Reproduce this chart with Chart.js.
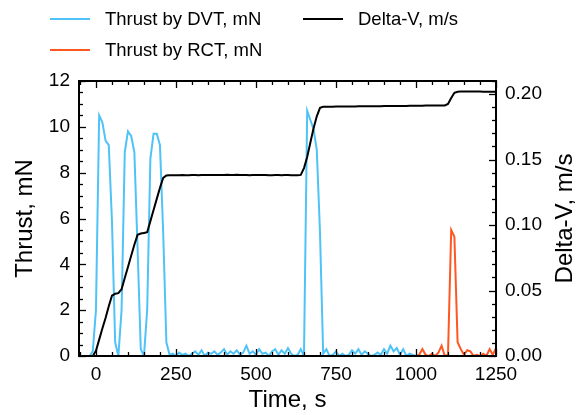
<!DOCTYPE html>
<html>
<head>
<meta charset="utf-8">
<script src="https://cdn.jsdelivr.net/npm/chart.js@4.4.1/dist/chart.umd.min.js"></script>
<style>
  body { margin: 0; background: #fff; }
  #wrap { width: 581px; height: 415px; }
</style>
</head>
<body>
<div id="wrap"><canvas id="thrustChart" width="581" height="415"></canvas></div>
<script>
// time axis, one sample every 10 s
const timeS = [
  -50, -40, -30, -20, -10, 0, 10, 20, 30, 40,
  50, 60, 70, 80, 90, 100, 110, 120, 130, 140,
  150, 160, 170, 180, 190, 200, 210, 220, 230, 240,
  250, 260, 270, 280, 290, 300, 310, 320, 330, 340,
  350, 360, 370, 380, 390, 400, 410, 420, 430, 440,
  450, 460, 470, 480, 490, 500, 510, 520, 530, 540,
  550, 560, 570, 580, 590, 600, 610, 620, 630, 640,
  650, 660, 670, 680, 690, 700, 710, 720, 730, 740,
  750, 760, 770, 780, 790, 800, 810, 820, 830, 840,
  850, 860, 870, 880, 890, 900, 910, 920, 930, 940,
  950, 960, 970, 980, 990, 1000, 1010, 1020, 1030, 1040,
  1050, 1060, 1070, 1080, 1090, 1100, 1110, 1120, 1130, 1140,
  1150, 1160, 1170, 1180, 1190, 1200, 1210, 1220, 1230, 1240,
  1250
];

// DVT thrust, mN (from -50 s to 1000 s)
const thrustDvt = [
  0, 0, 0, 0, 0.2, 2.0, 10.5, 10.2, 9.4, 9.2,
  5.9, 0.6, 0.0, 2.0, 8.9, 9.8, 9.6, 8.9, 4.7, 0.3,
  0.0, 2.0, 8.6, 9.7, 9.7, 9.2, 5.4, 0.6, 0.05, 0.1,
  0.0, 0.15, 0.05, 0.1, 0.0, 0.1, 0.2, 0.05, 0.25, 0.0,
  0.15, 0.1, 0.2, 0.05, 0.15, 0.3, 0.05, 0.2, 0.1, 0.25,
  0.05, 0.15, 0.45, 0.1, 0.2, 0.05, 0.3, 0.1, 0.15, 0.0,
  0.2, 0.3, 0.05, 0.25, 0.1, 0.35, 0.1, 0.0, 0.05, 0.3,
  0.0, 10.7, 10.3, 9.9, 9.0, 5.4, 0.1, 0.3, 0.0, 0.05,
  0.2, 0.0, 0.1, 0.0, 0.05, 0.25, 0.1, 0.3, 0.05, 0.2,
  0.1, 0.0, 0.05, 0.15, 0.05, 0.3, 0.1, 0.45, 0.2, 0.35,
  0.05, 0.3, 0.0, 0.1, 0.05, 0.0
];

// RCT thrust, mN (from 1000 s to 1250 s)
const thrustRct = [
  0.0, 0.05, 0.3, 0.05, 0.0,
  0.1, 0.0, 0.15, 0.45, 0.0, 0.05, 5.5, 5.2, 0.6, 0.3,
  0.05, 0.25, 0.2, 0.0, 0.05, 0.0, 0.1, 0.0, 0.3, 0.05,
  0.35
];

// accumulated delta-V, m/s
const deltaV = [
  0, 0, 0, 0, 0, 0.004, 0.0125, 0.021, 0.029, 0.038,
  0.046, 0.0475, 0.048, 0.051, 0.0595, 0.068, 0.0765, 0.085, 0.0925, 0.0935,
  0.094, 0.0945, 0.103, 0.1115, 0.120, 0.1285, 0.136, 0.1378, 0.1380, 0.1381,
  0.1380, 0.1381, 0.1382, 0.1381, 0.1381, 0.1382, 0.1382, 0.1381, 0.1382, 0.1383,
  0.1382, 0.1382, 0.1383, 0.1383, 0.1382, 0.1383, 0.1384, 0.1383, 0.1383, 0.1384,
  0.1383, 0.1383, 0.1382, 0.1381, 0.1382, 0.1382, 0.1383, 0.1382, 0.1382, 0.1381,
  0.1381, 0.1382, 0.1382, 0.1381, 0.1382, 0.1382, 0.1381, 0.1380, 0.1381, 0.1383,
  0.1435, 0.152, 0.163, 0.174, 0.183, 0.1895, 0.1903, 0.1904, 0.1904, 0.1904,
  0.1905, 0.1905, 0.1905, 0.1905, 0.1906, 0.1906, 0.1906, 0.1907, 0.1907, 0.1907,
  0.1907, 0.1908, 0.1908, 0.1908, 0.1908, 0.1909, 0.1909, 0.1909, 0.1909, 0.1910,
  0.1910, 0.1910, 0.1910, 0.1911, 0.1911, 0.1911, 0.1911, 0.1911, 0.1912, 0.1912,
  0.1912, 0.1912, 0.1913, 0.1913, 0.1913, 0.1925, 0.197, 0.201, 0.2018, 0.2020,
  0.2020, 0.2020, 0.2019, 0.2019, 0.2019, 0.2019, 0.2018, 0.2018, 0.2018, 0.2018,
  0.2018
];

const timeTicks = [0, 250, 500, 750, 1000, 1250];
const thrustTicks = [0, 2, 4, 6, 8, 10, 12];
const deltaVTicks = [0, 0.05, 0.10, 0.15, 0.20];

const FONT = '"Liberation Sans", Arial, Helvetica, sans-serif';
Chart.defaults.font.family = FONT;
Chart.defaults.color = '#000';

const dvtPoints = thrustDvt.map((v, i) => ({ x: timeS[i], y: v }));
const rctOffset = timeS.length - thrustRct.length;
const rctPoints = thrustRct.map((v, i) => ({ x: timeS[rctOffset + i], y: v }));
const dvPoints = deltaV.map((v, i) => ({ x: timeS[i], y: v }));

// matplotlib-like frame with inward major/minor ticks
const frameAndTicks = {
  id: 'frameAndTicks',
  afterDatasetsDraw(chart) {
    const { ctx, chartArea: a, scales } = chart;
    ctx.save();
    ctx.strokeStyle = '#000';
    ctx.lineWidth = 1.3;
    const mark = (x1, y1, x2, y2) => {
      ctx.beginPath(); ctx.moveTo(x1, y1); ctx.lineTo(x2, y2); ctx.stroke();
    };
    for (let v = -50; v <= 1250; v += 50) {
      const px = Math.round(scales.x.getPixelForValue(v)) + 0.5;
      const len = v % 250 === 0 ? 7 : 4;
      mark(px, a.bottom, px, a.bottom - len);
      mark(px, a.top, px, a.top + len);
    }
    for (let i = 0; i <= 24; i++) {
      const py = Math.round(scales.y.getPixelForValue(i / 2)) + 0.5;
      mark(a.left, py, a.left + (i % 4 === 0 ? 7 : 4), py);
    }
    for (let i = 0; i <= 21; i++) {
      const py = Math.round(scales.y2.getPixelForValue(i / 100)) + 0.5;
      mark(a.right, py, a.right - (i % 5 === 0 ? 7 : 4), py);
    }
    ctx.lineWidth = 2;
    ctx.strokeRect(a.left, a.top, a.right - a.left, a.bottom - a.top);

    // right axis title reads bottom to top
    ctx.fillStyle = '#000';
    ctx.font = '24px ' + FONT;
    ctx.textAlign = 'center';
    ctx.textBaseline = 'middle';
    ctx.translate(565, (a.top + a.bottom) / 2);
    ctx.rotate(-Math.PI / 2);
    ctx.fillText('Delta-V, m/s', 0, 0);
    ctx.restore();
  }
};

// two-column legend above the plot
const legendSlots = {
  id: 'legendSlots',
  afterDraw(chart) {
    const ctx = chart.ctx;
    const slots = [[50, 19], [50, 50], [303, 19]];
    ctx.save();
    ctx.font = '18.5px ' + FONT;
    ctx.textBaseline = 'middle';
    ctx.fillStyle = '#000';
    chart.data.datasets.forEach((ds, i) => {
      const [x, y] = slots[i];
      ctx.strokeStyle = ds.borderColor;
      ctx.lineWidth = 2;
      ctx.beginPath(); ctx.moveTo(x, y); ctx.lineTo(x + 40, y); ctx.stroke();
      ctx.fillText(ds.label, x + 55, y + 1);
    });
    ctx.restore();
  }
};

const tickFont = { size: 19 };

new Chart(document.getElementById('thrustChart'), {
  type: 'line',
  data: {
    datasets: [
      { label: 'Thrust by DVT, mN', data: dvtPoints, borderColor: '#4fc3f7', yAxisID: 'y', order: 1 },
      { label: 'Thrust by RCT, mN', data: rctPoints, borderColor: '#ff5722', yAxisID: 'y', order: 2 },
      { label: 'Delta-V, m/s', data: dvPoints, borderColor: '#000000', yAxisID: 'y2', order: 0 }
    ]
  },
  options: {
    responsive: false,
    animation: false,
    elements: {
      point: { radius: 0 },
      line: { borderWidth: 2, tension: 0, fill: false }
    },
    layout: { padding: { top: 81, left: 0, right: 0, bottom: 0 } },
    plugins: {
      legend: { display: false },
      tooltip: { enabled: false }
    },
    scales: {
      x: {
        type: 'linear',
        min: -53,
        max: 1250,
        grid: { display: false, drawTicks: false },
        border: { display: false },
        afterBuildTicks: s => { s.ticks = timeTicks.map(v => ({ value: v })); },
        afterFit: s => { s.height = 59; },
        ticks: { font: tickFont, color: '#000', padding: 7, maxRotation: 0, autoSkip: false, callback: v => String(v) },
        title: { display: true, text: 'Time, s', font: { size: 24 }, color: '#000', padding: { top: 0, bottom: 0 } }
      },
      y: {
        position: 'left',
        min: 0,
        max: 12,
        grid: { display: false, drawTicks: false },
        border: { display: false },
        afterBuildTicks: s => { s.ticks = thrustTicks.map(v => ({ value: v })); },
        afterFit: s => { s.width = 79; },
        ticks: { font: tickFont, color: '#000', padding: 9, autoSkip: false, callback: v => String(v) },
        title: { display: true, text: 'Thrust, mN', font: { size: 24 }, color: '#000', padding: { top: 11, bottom: 0 } }
      },
      y2: {
        position: 'right',
        min: 0,
        max: 0.21,
        grid: { display: false, drawTicks: false },
        border: { display: false },
        afterBuildTicks: s => { s.ticks = deltaVTicks.map(v => ({ value: v })); },
        afterFit: s => { s.width = 85; },
        ticks: { font: tickFont, color: '#000', padding: 9, autoSkip: false, callback: v => v.toFixed(2) }
      }
    }
  },
  plugins: [frameAndTicks, legendSlots]
});
</script>
</body>
</html>
